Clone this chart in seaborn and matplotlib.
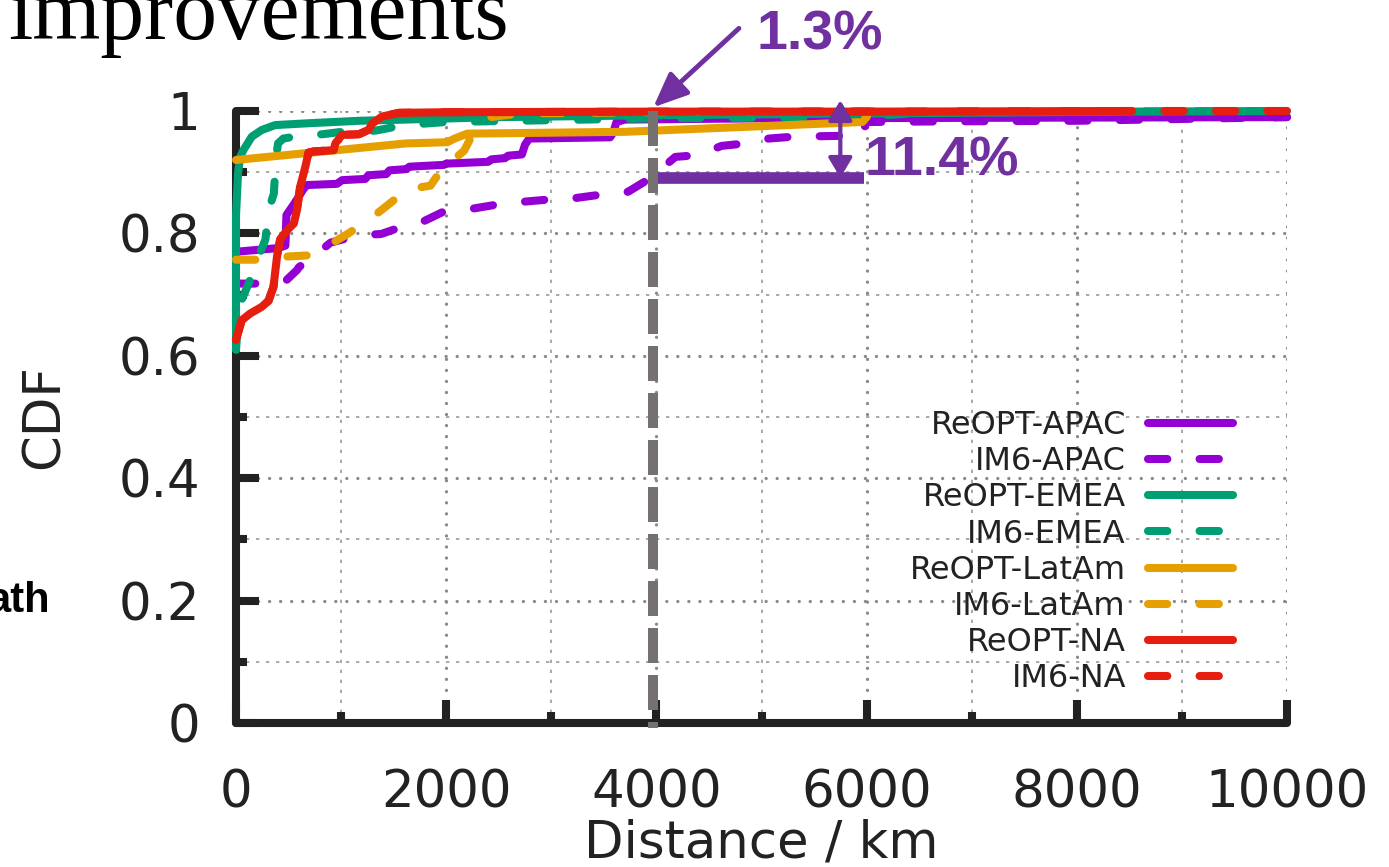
import numpy as np
import pandas as pd
import matplotlib
matplotlib.use("Agg")
import matplotlib.pyplot as plt
import seaborn as sns
from matplotlib.ticker import MultipleLocator, FuncFormatter

# ---------------- data ----------------
reopt_apac_x = [0, 400, 470, 480, 560, 640, 675, 960, 1010, 1230, 1260, 1430, 1460, 1620, 1650,
                1980, 2000, 2400, 2430, 2560, 2590, 2720, 2750, 2790, 3560, 3590, 3620, 3700, 5000, 10000]
reopt_apac_y = [0.770, 0.776, 0.78, 0.83, 0.85, 0.872, 0.879, 0.881, 0.887, 0.889, 0.895, 0.897, 0.903,
                0.905, 0.909, 0.912, 0.914, 0.917, 0.921, 0.923, 0.927, 0.929, 0.945, 0.955, 0.957,
                0.965, 0.982, 0.986, 0.988, 0.99]

im6_apac_x = [0, 200, 470, 580, 600, 755, 850, 900, 1170, 1380, 1600, 1775, 1980, 2200, 2550, 2750,
              3020, 3240, 3500, 3730, 3940, 4180, 4400, 4620, 4790, 5070, 5300, 5950, 6000, 6700,
              8000, 9000, 10000]
im6_apac_y = [0.718, 0.718, 0.722, 0.74, 0.745, 0.765, 0.778, 0.785, 0.797, 0.799, 0.812, 0.819, 0.836,
              0.839, 0.849, 0.852, 0.856, 0.858, 0.864, 0.868, 0.89, 0.925, 0.928, 0.943, 0.946, 0.955,
              0.958, 0.96, 0.982, 0.983, 0.984, 0.987, 0.99]

reopt_emea_x = [0, 0, 20, 40, 70, 150, 245, 373, 690, 1170, 1615, 2500, 4000, 6000, 8500, 10000]
reopt_emea_y = [0.61, 0.83, 0.90, 0.925, 0.936, 0.958, 0.969, 0.977, 0.98, 0.984, 0.986, 0.99, 0.993,
                0.996, 0.999, 1.0]

im6_emea_x = [0, 20, 40, 120, 210, 280, 310, 360, 380, 400, 450, 660, 820, 1010, 1330, 1600, 2000,
              3000, 4000, 5900, 6500, 8000, 10000]
im6_emea_y = [0.61, 0.66, 0.686, 0.718, 0.76, 0.79, 0.838, 0.865, 0.923, 0.947, 0.955, 0.961, 0.962,
              0.966, 0.968, 0.977, 0.982, 0.985, 0.988, 0.99, 0.997, 0.999, 1.0]

reopt_latam_x = [0, 1615, 2010, 2080, 2200, 3700, 5960, 6000, 6020]
reopt_latam_y = [0.92, 0.947, 0.949, 0.955, 0.963, 0.966, 0.982, 0.99, 1.0]

im6_latam_x = [0, 200, 470, 675, 915, 1070, 1300, 1420, 1630, 1850, 2010, 2100, 2170, 2260, 2340,
               2420, 2700, 4000, 6000]
im6_latam_y = [0.757, 0.757, 0.762, 0.764, 0.784, 0.80, 0.827, 0.843, 0.872, 0.878, 0.918, 0.925,
               0.935, 0.965, 0.98, 0.99, 0.996, 0.998, 1.0]

reopt_na_x = [0, 54, 134, 245, 310, 357, 390, 420, 485, 550, 580, 610, 660, 690, 740, 930, 945,
              1010, 1170, 1260, 1300, 1390, 1550, 2000, 4000, 6000, 8500]
reopt_na_y = [0.626, 0.658, 0.669, 0.68, 0.69, 0.713, 0.762, 0.79, 0.805, 0.816, 0.838, 0.876, 0.909,
              0.932, 0.934, 0.936, 0.947, 0.961, 0.962, 0.969, 0.98, 0.991, 0.997, 0.998, 0.999,
              0.999, 1.0]

im6_na_x = [0, 54, 134, 245, 310, 357, 390, 420, 485, 550, 580, 610, 660, 690, 740, 930, 945,
            1010, 1170, 1260, 1300, 1390, 1550, 2000, 4000, 6000, 8500, 10000]
im6_na_y = [0.626, 0.658, 0.669, 0.68, 0.69, 0.713, 0.762, 0.79, 0.805, 0.816, 0.838, 0.876, 0.909,
            0.932, 0.934, 0.936, 0.947, 0.961, 0.962, 0.969, 0.98, 0.991, 0.997, 0.998, 0.999,
            0.999, 1.0, 1.0]

series_names = ["ReOPT-APAC", "IM6-APAC", "ReOPT-EMEA", "IM6-EMEA",
                "ReOPT-LatAm", "IM6-LatAm", "ReOPT-NA", "IM6-NA"]
series_x = [reopt_apac_x, im6_apac_x, reopt_emea_x, im6_emea_x,
            reopt_latam_x, im6_latam_x, reopt_na_x, im6_na_x]
series_y = [reopt_apac_y, im6_apac_y, reopt_emea_y, im6_emea_y,
            reopt_latam_y, im6_latam_y, reopt_na_y, im6_na_y]

x_ticks = [0, 2000, 4000, 6000, 8000, 10000]
y_ticks = [0, 0.2, 0.4, 0.6, 0.8, 1.0]

# ---------------- styling ----------------
PURPLE = "#9400D3"
GREEN = "#009E73"
ORANGE = "#E69F00"
RED = "#E51E10"
colors = [PURPLE, PURPLE, GREEN, GREEN, ORANGE, ORANGE, RED, RED]
ANN = "#7030A0"
GRAY = "#767171"
DARK = "#222222"

sns.set_theme(style="white")
plt.rcParams["font.family"] = ["DejaVu Sans"]

fig = plt.figure(figsize=(13.89, 8.67), dpi=100)
ax = fig.add_axes([236 / 1389, 1 - 723 / 867, 1051 / 1389, 612 / 867])

LW = 5.8
for name, xs, ys, c in zip(series_names, series_x, series_y, colors):
    ls = "-" if name.startswith("ReOPT") else (0, (2.4, 4.0))
    df = pd.DataFrame({"x": xs, "y": ys})
    sns.lineplot(data=df, x="x", y="y", ax=ax, color=c, lw=LW, linestyle=ls,
                 estimator=None, sort=False, label=name,
                 solid_capstyle="round", dash_capstyle="round",
                 clip_on=False, zorder=3)

ax.set_xlim(0, 10000)
ax.set_ylim(0, 1)
ax.xaxis.set_major_locator(plt.FixedLocator(x_ticks))
ax.xaxis.set_minor_locator(MultipleLocator(1000))
ax.yaxis.set_major_locator(plt.FixedLocator(y_ticks))
ax.yaxis.set_minor_locator(MultipleLocator(0.1))
ax.yaxis.set_major_formatter(FuncFormatter(lambda v, p: "0" if abs(v) < 1e-9 else ("1" if abs(v - 1) < 1e-9 else f"{v:.1f}")))
ax.xaxis.set_major_formatter(FuncFormatter(lambda v, p: f"{int(round(v))}"))

ax.tick_params(which="major", direction="in", length=16.5, width=5.8, color=DARK,
               labelsize=37, labelcolor=DARK, top=False, right=False, bottom=True, left=True)
ax.tick_params(which="minor", direction="in", length=8, width=5.8, color=DARK,
               top=False, right=False, bottom=True, left=True)
ax.tick_params(axis="x", which="major", pad=33)
ax.tick_params(axis="y", which="major", pad=26)

for s in ["top", "right"]:
    ax.spines[s].set_visible(False)
for s in ["left", "bottom"]:
    ax.spines[s].set_linewidth(5.8)
    ax.spines[s].set_color(DARK)
    ax.spines[s].set_capstyle("round")

ax.set_axisbelow(True)
ax.grid(which="major", color="#8a8a8a", linestyle=(0, (0.01, 3.3)), linewidth=2.4,
        dash_capstyle="round")
ax.grid(which="minor", color="#9a9a9a", linestyle=(0, (2, 4)), linewidth=1.2)

ax.set_xlabel("Distance / km", fontsize=37, color=DARK)
ax.set_ylabel("CDF", fontsize=37, color=DARK)
ax.xaxis.set_label_coords(0.5, -0.156)
ax.yaxis.set_label_coords(-0.158, 0.5)

handles, labels = ax.get_legend_handles_labels()
leg = ax.legend(handles, labels, loc="upper right", bbox_to_anchor=(0.9486, 0.511),
                frameon=False, fontsize=23, markerfirst=False, handlelength=2.65,
                handletextpad=0.7, labelspacing=0.16, borderpad=0, borderaxespad=0)
for t in leg.get_texts():
    t.set_color(DARK)

# ---------------- annotations ----------------
ax.plot([3970, 3970], [1.0, -0.008], color=GRAY, lw=7.2, linestyle=(0, (3.5, 1.2)),
        dash_capstyle="butt", clip_on=False, zorder=6)
ax.plot([3960, 5979], [0.891, 0.891], color=ANN, lw=8.4, solid_capstyle="butt",
        clip_on=False, zorder=5)
ax.annotate("", xy=(5750, 1.0175), xytext=(5750, 0.891),
            arrowprops=dict(arrowstyle="<|-|>,head_length=0.6,head_width=0.36",
                            mutation_scale=20, color=ANN, lw=3, shrinkA=0, shrinkB=0),
            annotation_clip=False, zorder=7)
ax.annotate("", xy=(3970, 1.006), xytext=(4785, 1.135),
            arrowprops=dict(arrowstyle="-|>,head_length=0.7,head_width=0.3",
                            mutation_scale=30, color=ANN, lw=3.5, shrinkA=0, shrinkB=0),
            annotation_clip=False, zorder=7)
ax.text(4957, 1.1008, "1.3%", family="Liberation Sans", weight="bold", fontsize=40,
        color=ANN, va="baseline", ha="left", clip_on=False)
ax.text(5979, 0.895, "11.4%", family="Liberation Sans", weight="bold", fontsize=40,
        color=ANN, va="baseline", ha="left", clip_on=False)

fig.text(8 / 1389, 1 - 39 / 867, "improvements", family="Liberation Serif", fontsize=63,
         va="baseline", ha="left", color="black")
fig.text(50 / 1389, 1 - 612 / 867, "ath", family="Liberation Sans", weight="bold",
         fontsize=30, va="baseline", ha="right", color="black")

fig.savefig("out.png", dpi=100)
